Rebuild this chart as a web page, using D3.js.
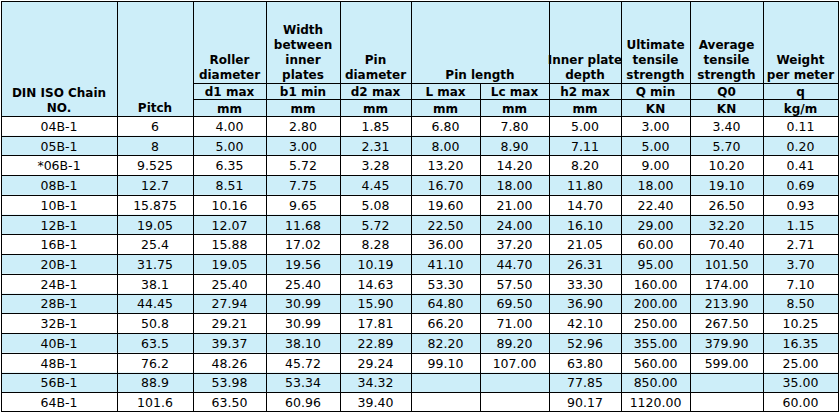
<!DOCTYPE html>
<html><head><meta charset="utf-8">
<script src="https://cdn.jsdelivr.net/npm/d3@7"></script>
<style>body{margin:0;background:#fff}text{font-family:"DejaVu Sans","Liberation Sans",Arial,sans-serif}</style>
</head><body><svg id="c" width="840" height="414"></svg>
<script>
const chains = ["04B-1","05B-1","*06B-1","08B-1","10B-1","12B-1","16B-1","20B-1","24B-1","28B-1","32B-1","40B-1","48B-1","56B-1","64B-1"];
const pitch = ["6","8","9.525","12.7","15.875","19.05","25.4","31.75","38.1","44.45","50.8","63.5","76.2","88.9","101.6"];
const d1 = ["4.00","5.00","6.35","8.51","10.16","12.07","15.88","19.05","25.40","27.94","29.21","39.37","48.26","53.98","63.50"];
const b1 = ["2.80","3.00","5.72","7.75","9.65","11.68","17.02","19.56","25.40","30.99","30.99","38.10","45.72","53.34","60.96"];
const d2 = ["1.85","2.31","3.28","4.45","5.08","5.72","8.28","10.19","14.63","15.90","17.81","22.89","29.24","34.32","39.40"];
const lmax = ["6.80","8.00","13.20","16.70","19.60","22.50","36.00","41.10","53.30","64.80","66.20","82.20","99.10","",""];
const lcmax = ["7.80","8.90","14.20","18.00","21.00","24.00","37.20","44.70","57.50","69.50","71.00","89.20","107.00","",""];
const h2 = ["5.00","7.11","8.20","11.80","14.70","16.10","21.05","26.31","33.30","36.90","42.10","52.96","63.80","77.85","90.17"];
const qmin = ["3.00","5.00","9.00","18.00","22.40","29.00","60.00","95.00","160.00","200.00","250.00","355.00","560.00","850.00","1120.00"];
const q0 = ["3.40","5.70","10.20","19.10","26.50","32.20","70.40","101.50","174.00","213.90","267.50","379.90","599.00","",""];
const weight = ["0.11","0.20","0.41","0.69","0.93","1.15","2.71","3.70","7.10","8.50","10.25","16.35","25.00","35.00","60.00"];
const symbols = ["","","d1 max","b1 min","d2 max","L max","Lc max","h2 max","Q min","Q0","q"];
const units = ["","","mm","mm","mm","mm","mm","mm","KN","KN","kg/m"];
const titles = [["DIN ISO Chain","NO."],["Pitch"],["Roller","diameter"],["Width","between","inner","plates"],["Pin","diameter"],["Pin length"],[],["Inner plate","depth"],["Ultimate","tensile","strength"],["Average","tensile","strength"],["Weight","per meter"]];

const cols = [chains,pitch,d1,b1,d2,lmax,lcmax,h2,qmin,q0,weight];
const edges = [1,117,193,266,340,411,480,549,621,690,763,838];
const blue = "#cdeef9";
const svg = d3.select("#c");
const x = i => edges[i];
const y = d3.scaleBand().domain(d3.range(chains.length)).range([116,412]);
const hTop = 1, hSym = 83, hUnit = 99, hEnd = 116;

svg.append("rect").attr("x",x(0)).attr("y",hTop).attr("width",x(11)-x(0)).attr("height",hEnd-hTop).attr("fill",blue);
svg.selectAll("rect.row").data(chains).join("rect").attr("class","row")
  .attr("x",x(0)).attr("y",(d,i)=>y(i)).attr("width",x(11)-x(0)).attr("height",y.bandwidth())
  .attr("fill",(d,i)=>i%2?blue:"#fff");

const g = svg.append("g").attr("stroke","#000").attr("stroke-width",1).attr("shape-rendering","crispEdges");
g.append("rect").attr("x",x(0)+.5).attr("y",hTop+.5).attr("width",x(11)-x(0)).attr("height",411-hTop).attr("fill","none");
d3.range(1,11).forEach(i=>{
  g.append("line").attr("x1",x(i)+.5).attr("x2",x(i)+.5).attr("y1",i===6?hSym:hTop).attr("y2",412);
});
g.append("line").attr("x1",x(2)).attr("x2",x(11)).attr("y1",hSym+.5).attr("y2",hSym+.5);
g.append("line").attr("x1",x(2)).attr("x2",x(11)).attr("y1",hUnit+.5).attr("y2",hUnit+.5);
d3.range(chains.length).forEach(i=>{
  g.append("line").attr("x1",x(0)).attr("x2",x(11)).attr("y1",Math.round(y(i))+.5).attr("y2",Math.round(y(i))+.5);
});

const mid = i => (x(i)+x(i+1))/2;
const hdr = svg.append("g").attr("font-size",12).attr("font-weight","bold").attr("fill","#000").attr("text-anchor","middle");
titles.forEach((lines,i)=>{
  const cx = i===5 ? (x(5)+x(7))/2 : mid(i);
  const bottom = i<2 ? hEnd-4 : hSym-4;
  lines.forEach((t,k)=>{
    hdr.append("text").attr("x",cx).attr("y",bottom-(lines.length-1-k)*15).text(t);
  });
});
symbols.forEach((s,i)=>{ if(s) hdr.append("text").attr("x",mid(i)).attr("y",hUnit-3).text(s); });
units.forEach((s,i)=>{ if(s) hdr.append("text").attr("x",mid(i)).attr("y",hEnd-3).text(s); });

const body = svg.append("g").attr("font-size",12.5).attr("fill","#000").attr("text-anchor","middle");
cols.forEach((col,c)=>{
  body.selectAll(null).data(col).join("text")
    .attr("x",mid(c)).attr("y",(d,i)=>y(i)+y.bandwidth()/2+5).text(d=>d);
});
</script></body></html>
